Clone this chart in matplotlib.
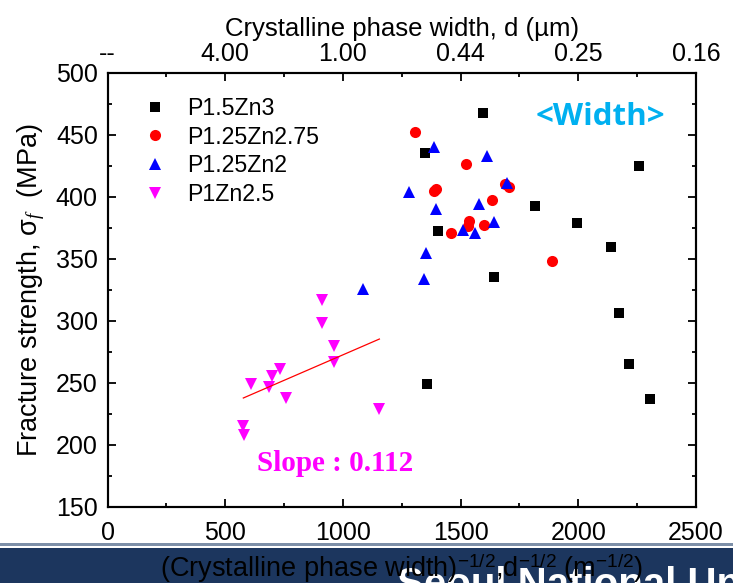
import matplotlib
matplotlib.use("Agg")
import matplotlib.pyplot as plt
from matplotlib.ticker import MultipleLocator, FuncFormatter
from matplotlib.patches import Rectangle

plt.rcParams['font.family'] = ['Liberation Sans', 'DejaVu Sans']
plt.rcParams['mathtext.fontset'] = 'custom'
plt.rcParams['mathtext.rm'] = 'Liberation Sans'
plt.rcParams['mathtext.it'] = 'Liberation Serif:italic'
plt.rcParams['mathtext.bf'] = 'Liberation Sans:bold'

# d^-1/2 (m^-1/2) vs fracture strength (MPa)
p15zn3_x = [1597, 1348, 1404, 1816, 1994, 2139, 2258, 1642, 1357, 2173, 2216, 2305]
p15zn3_y = [467, 435.2, 372.3, 392.5, 378.8, 359.4, 424.7, 335.3, 249.1, 306.3, 265.2, 237]

p125zn275_x = [1306, 1523, 1396, 1387, 1688, 1706, 1634, 1536, 1531, 1599, 1459, 1888]
p125zn275_y = [452, 426, 406, 404.5, 410.4, 407.5, 397, 380.1, 376.6, 377.4, 371, 347.9]

p125zn2_x = [1388, 1613, 1282, 1397, 1579, 1696, 1641, 1511, 1562, 1353, 1346, 1084]
p125zn2_y = [440.2, 433, 404, 389.8, 394, 411.2, 379.3, 373.1, 370.5, 354.4, 333.9, 325.6]

p1zn25_x = [912, 910, 963, 963, 733, 700, 686, 608, 760, 1155, 574, 581]
p1zn25_y = [316.7, 298, 280, 267, 261, 255.8, 246.9, 248.8, 238, 229, 215.5, 208]

# linear fit through the P1Zn2.5 group
fit_x = [577, 1155]
fit_y = [237.8, 285.3]

series_labels = ["P1.5Zn3", "P1.25Zn2.75", "P1.25Zn2", "P1Zn2.5"]
x_ticks = [0, 500, 1000, 1500, 2000, 2500]

W, H = 733, 583
fig = plt.figure(figsize=(W / 100, H / 100), dpi=100)

# footer banner
fig.patches.append(Rectangle((0, 0), 1, (H - 548) / H, transform=fig.transFigure,
                             facecolor="#1c365e", edgecolor="none", zorder=0))
fig.patches.append(Rectangle((0, (H - 545.5) / H), 1, 2.2 / H, transform=fig.transFigure,
                             facecolor="#7d8fa8", edgecolor="none", zorder=0))
fig.text(397 / W, -13 / H, "Seoul National University", color="white",
         fontsize=29, fontweight="bold", ha="left", va="baseline", zorder=1)

ax = fig.add_axes([107.5 / W, 1 - 507 / H, (696 - 107.5) / W, (507 - 72.5) / H])

ax.plot(p15zn3_x, p15zn3_y, ls="none", marker="s", ms=7, color="black", mew=0,
        label=series_labels[0])
ax.plot(p125zn275_x, p125zn275_y, ls="none", marker="o", ms=8, color="red", mew=0,
        label=series_labels[1])
ax.plot(p125zn2_x, p125zn2_y, ls="none", marker="^", ms=9, color="blue", mew=0,
        label=series_labels[2])
ax.plot(p1zn25_x, p1zn25_y, ls="none", marker="v", ms=9, color="magenta", mew=0,
        label=series_labels[3])
ax.plot(fit_x, fit_y, color="red", lw=0.9)

ax.set_xlim(0, 2500)
ax.set_ylim(150, 500)
ax.xaxis.set_major_locator(MultipleLocator(500))
ax.xaxis.set_minor_locator(MultipleLocator(250))
ax.yaxis.set_major_locator(MultipleLocator(50))
ax.yaxis.set_minor_locator(MultipleLocator(25))
ax.tick_params(which="both", direction="in", width=1.3, top=False, right=True,
               labelsize=18)
ax.tick_params(which="major", length=6, pad=7)
ax.tick_params(axis="x", which="major", pad=10)
ax.tick_params(which="minor", length=3)
for s in ax.spines.values():
    s.set_linewidth(1.5)

ax.set_ylabel("Fracture strength, σ$_{\\mathit{f}}$  (MPa)", fontsize=19.5, labelpad=6)

# top axis: crystalline phase width d = 1/x^2 (m) shown in µm
top = ax.twiny()
top.set_xlim(ax.get_xlim())
top.set_xticks(x_ticks)
top.xaxis.set_minor_locator(MultipleLocator(250))
top.xaxis.set_major_formatter(FuncFormatter(
    lambda v, _: "--" if v == 0 else f"{1e6 / v**2:.2f}"))
top.tick_params(which="both", direction="in", width=1.3, labelsize=18)
top.tick_params(which="major", length=6, pad=5)
top.tick_params(which="minor", length=3)
top.set_xlabel("Crystalline phase width, d (µm)", fontsize=18.5, labelpad=4)
for s in top.spines.values():
    s.set_linewidth(1.5)

leg = ax.legend(loc="upper left", bbox_to_anchor=(0.045, 0.965), frameon=False,
                fontsize=16.7, handlelength=1.0, handletextpad=0.9,
                labelspacing=0.24, borderaxespad=0)


def px_to_data(px, py):
    return ((px - 107.5) * 2500 / 588.5, 500 - (py - 72.5) * 350 / 434.5)


wx, wy = px_to_data(600, 117)
ax.text(wx, wy, "<Width>", color="#00b0f0", fontsize=22.5, fontweight="bold",
        family="Open Sans", ha="center", va="center")
sx, sy = px_to_data(257, 471)
ax.text(sx, sy, "Slope : 0.112", color="magenta", fontsize=21, fontweight="bold",
        family="Liberation Serif", ha="left", va="baseline")

fig.text(402 / W, (H - 577) / H,
         "(Crystalline phase width)$^{\\mathrm{-1/2}}$,d$^{\\mathrm{-1/2}}$ (m$^{\\mathrm{-1/2}}$)",
         fontsize=19.5, color="black", ha="center", va="baseline", zorder=3)

fig.savefig("out.png", dpi=100)
